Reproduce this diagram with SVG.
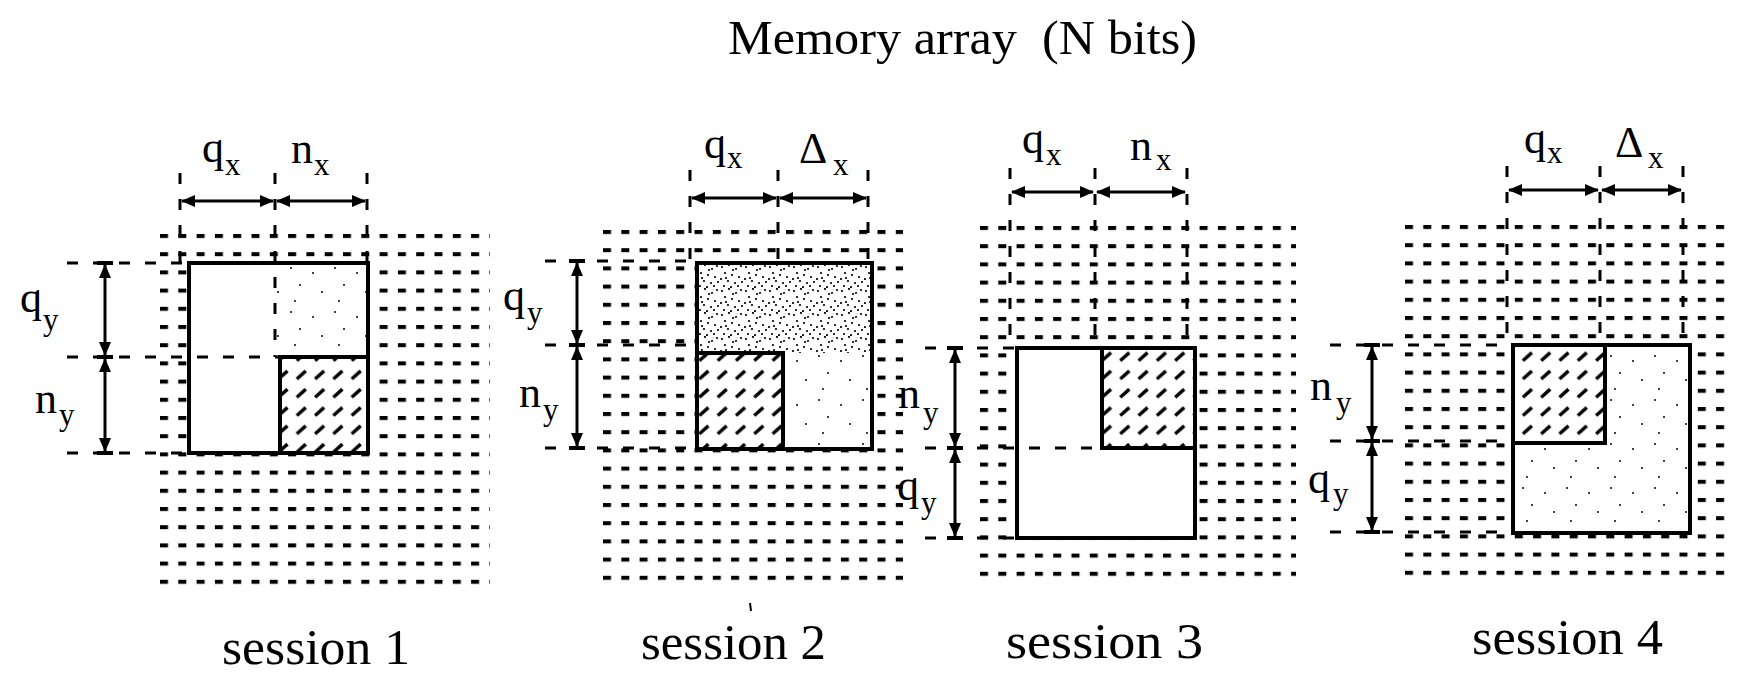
<svg xmlns="http://www.w3.org/2000/svg" width="1738" height="680" viewBox="0 0 1738 680">
<style>
.txt{font-family:"Liberation Serif","Times New Roman",serif;fill:#000}
.ttl{font-size:48px}
.lab{font-size:44px}
.sub{font-size:31px}
.sess{font-size:50px}
.box{fill:#fff;stroke:#000;stroke-width:4}
.outline{fill:none;stroke:#000;stroke-width:4}
.solid{stroke:#000;stroke-width:4;fill:none}
.ext{stroke:#000;stroke-width:3;stroke-dasharray:11 15;fill:none}
.bar{stroke:#000;stroke-width:4;fill:none}
.dim{stroke:#000;stroke-width:3;fill:none;marker-start:url(#ah);marker-end:url(#ah)}
</style>
<defs>
<marker id="ah" markerUnits="userSpaceOnUse" markerWidth="14" markerHeight="12" refX="13" refY="6" orient="auto-start-reverse" viewBox="0 0 14 12"><path d="M0,0 L14,6 L0,12 z" fill="#000"/></marker>
<pattern id="grid1" patternUnits="userSpaceOnUse" x="160" y="234" width="18.3" height="18.2"><rect width="8" height="4" fill="#000"/></pattern>
<pattern id="grid2" patternUnits="userSpaceOnUse" x="603" y="230" width="18.3" height="18.2"><rect width="8" height="4" fill="#000"/></pattern>
<pattern id="grid3" patternUnits="userSpaceOnUse" x="980" y="226" width="18.3" height="18.2"><rect width="8" height="4" fill="#000"/></pattern>
<pattern id="grid4" patternUnits="userSpaceOnUse" x="1405" y="225" width="18.3" height="18.2"><rect width="8" height="4" fill="#000"/></pattern>
<pattern id="hatch" patternUnits="userSpaceOnUse" width="18.3" height="18.3"><line x1="4" y1="13" x2="13" y2="5" stroke="#000" stroke-width="3.5"/></pattern>
<pattern id="stipS" patternUnits="userSpaceOnUse" width="44" height="44"><g fill="#000"><circle cx="5" cy="9" r="1"/><circle cx="27" cy="4" r="1"/><circle cx="36" cy="21" r="1"/><circle cx="14" cy="28" r="1"/><circle cx="31" cy="37" r="1"/></g></pattern>
<pattern id="stipD" patternUnits="userSpaceOnUse" width="24" height="24"><g fill="#000"><circle cx="2" cy="3" r="1.1"/><circle cx="9" cy="1" r="1.1"/><circle cx="16" cy="5" r="1.1"/><circle cx="21" cy="2" r="1.1"/><circle cx="5" cy="9" r="1.1"/><circle cx="12" cy="11" r="1.1"/><circle cx="19" cy="13" r="1.1"/><circle cx="1" cy="15" r="1.1"/><circle cx="8" cy="17" r="1.1"/><circle cx="15" cy="19" r="1.1"/><circle cx="22" cy="18" r="1.1"/><circle cx="4" cy="22" r="1.1"/><circle cx="11" cy="23" r="1.1"/><circle cx="18" cy="22" r="1.1"/><circle cx="13" cy="6" r="1.1"/><circle cx="6" cy="14" r="1.1"/></g></pattern>
</defs>
<rect width="1738" height="680" fill="#fff"/>

<g id="title"><text class="txt ttl" x="728" y="54" textLength="469" lengthAdjust="spacingAndGlyphs" xml:space="preserve">Memory array  (N bits)</text></g>

<g id="session1">
<rect x="158" y="232" width="332" height="356" fill="url(#grid1)"/>
<rect class="box" x="189" y="263" width="179" height="190"/>
<rect x="277" y="265" width="89" height="92" fill="url(#stipS)"/>
<rect x="280" y="357" width="88" height="96" fill="url(#hatch)"/>
<path class="solid" d="M280,453 V357 H368"/>
<rect class="outline" x="189" y="263" width="179" height="190"/>
<text class="txt lab" x="202" y="162">q</text><text class="txt sub" x="225" y="175">x</text>
<text class="txt lab" x="291" y="163">n</text><text class="txt sub" x="314" y="175">x</text>
<text class="txt lab" x="20" y="312">q</text><text class="txt sub" x="43" y="330">y</text>
<text class="txt lab" x="35" y="413">n</text><text class="txt sub" x="59" y="425">y</text>
<text class="txt sess" x="222" y="664" textLength="188" lengthAdjust="spacingAndGlyphs">session 1</text>
</g>

<g id="session2">
<rect x="600" y="228" width="303" height="356" fill="url(#grid2)"/>
<rect class="box" x="697" y="263" width="175" height="186"/>
<rect x="699" y="265" width="171" height="88" fill="url(#stipD)"/>
<rect x="785" y="353" width="85" height="94" fill="url(#stipS)"/>
<rect x="697" y="353" width="86" height="96" fill="url(#hatch)"/>
<path class="solid" d="M697,353 H783 V449"/>
<rect class="outline" x="697" y="263" width="175" height="186"/>
<text class="txt lab" x="704" y="158">q</text><text class="txt sub" x="727" y="168">x</text>
<text class="txt lab" x="799" y="163">Δ</text><text class="txt sub" x="833" y="175">x</text>
<text class="txt lab" x="503" y="310">q</text><text class="txt sub" x="527" y="323">y</text>
<text class="txt lab" x="519" y="407">n</text><text class="txt sub" x="543" y="420">y</text>
<text class="txt sess" x="641" y="659" textLength="185" lengthAdjust="spacingAndGlyphs">session 2</text>
<line x1="750" y1="603" x2="751" y2="611" stroke="#000" stroke-width="2"/>
</g>

<g id="session3">
<rect x="978" y="224" width="318" height="356" fill="url(#grid3)"/>
<rect class="box" x="1017" y="348" width="178" height="190"/>
<rect x="1102" y="348" width="93" height="100" fill="url(#hatch)"/>
<path class="solid" d="M1102,348 V448 H1195"/>
<rect class="outline" x="1017" y="348" width="178" height="190"/>
<text class="txt lab" x="1022" y="153">q</text><text class="txt sub" x="1046" y="165">x</text>
<text class="txt lab" x="1130" y="160">n</text><text class="txt sub" x="1156" y="170">x</text>
<text class="txt lab" x="898" y="408">n</text><text class="txt sub" x="923" y="423">y</text>
<text class="txt lab" x="897" y="500">q</text><text class="txt sub" x="921" y="513">y</text>
<text class="txt sess" x="1006" y="658" textLength="197" lengthAdjust="spacingAndGlyphs">session 3</text>
</g>

<g id="session4">
<rect x="1403" y="223" width="322" height="356" fill="url(#grid4)"/>
<rect class="box" x="1513" y="345" width="177" height="188"/>
<rect x="1607" y="347" width="81" height="96" fill="url(#stipS)"/>
<rect x="1515" y="443" width="173" height="88" fill="url(#stipS)"/>
<rect x="1513" y="345" width="92" height="98" fill="url(#hatch)"/>
<path class="solid" d="M1605,345 V443 H1513"/>
<rect class="outline" x="1513" y="345" width="177" height="188"/>
<text class="txt lab" x="1524" y="153">q</text><text class="txt sub" x="1547" y="163">x</text>
<text class="txt lab" x="1615" y="157">Δ</text><text class="txt sub" x="1648" y="168">x</text>
<text class="txt lab" x="1310" y="400">n</text><text class="txt sub" x="1336" y="413">y</text>
<text class="txt lab" x="1308" y="493">q</text><text class="txt sub" x="1333" y="504">y</text>
<text class="txt sess" x="1472" y="654" textLength="191" lengthAdjust="spacingAndGlyphs">session 4</text>
</g>

<g id="connectors">
<line class="ext" x1="180" y1="173" x2="180" y2="263"/>
<line class="ext" x1="275" y1="173" x2="275" y2="357"/>
<line class="ext" x1="367" y1="173" x2="367" y2="263"/>
<line class="ext" x1="67" y1="263" x2="189" y2="263"/>
<line class="ext" x1="67" y1="357" x2="280" y2="357"/>
<line class="ext" x1="67" y1="453" x2="189" y2="453"/>
<line class="dim" x1="182" y1="201" x2="273" y2="201"/>
<line class="dim" x1="277" y1="201" x2="365" y2="201"/>
<line class="dim" x1="105" y1="265" x2="105" y2="355"/>
<line class="dim" x1="105" y1="359" x2="105" y2="451"/>
<path class="bar" d="M97,263 H113 M97,357 H113 M97,453 H113"/>
<line class="ext" x1="690" y1="170" x2="690" y2="263"/>
<line class="ext" x1="778" y1="170" x2="778" y2="263"/>
<line class="ext" x1="868" y1="170" x2="868" y2="263"/>
<line class="ext" x1="545" y1="261" x2="697" y2="261"/>
<line class="ext" x1="545" y1="345" x2="697" y2="345"/>
<line class="ext" x1="545" y1="448" x2="697" y2="448"/>
<line class="dim" x1="692" y1="198" x2="776" y2="198"/>
<line class="dim" x1="780" y1="198" x2="866" y2="198"/>
<line class="dim" x1="577" y1="263" x2="577" y2="343"/>
<line class="dim" x1="577" y1="347" x2="577" y2="446"/>
<path class="bar" d="M569,261 H585 M569,345 H585 M569,448 H585"/>
<line class="ext" x1="1010" y1="168" x2="1010" y2="348"/>
<line class="ext" x1="1095" y1="168" x2="1095" y2="348"/>
<line class="ext" x1="1187" y1="168" x2="1187" y2="348"/>
<line class="ext" x1="925" y1="348" x2="1017" y2="348"/>
<line class="ext" x1="925" y1="448" x2="1102" y2="448"/>
<line class="ext" x1="925" y1="538" x2="1017" y2="538"/>
<line class="dim" x1="1012" y1="192" x2="1093" y2="192"/>
<line class="dim" x1="1097" y1="192" x2="1185" y2="192"/>
<line class="dim" x1="955" y1="350" x2="955" y2="446"/>
<line class="dim" x1="955" y1="450" x2="955" y2="536"/>
<path class="bar" d="M947,348 H963 M947,448 H963 M947,538 H963"/>
<line class="ext" x1="1507" y1="166" x2="1507" y2="345"/>
<line class="ext" x1="1600" y1="166" x2="1600" y2="345"/>
<line class="ext" x1="1683" y1="166" x2="1683" y2="345"/>
<line class="ext" x1="1330" y1="345" x2="1513" y2="345"/>
<line class="ext" x1="1330" y1="441" x2="1513" y2="441"/>
<line class="ext" x1="1330" y1="532" x2="1513" y2="532"/>
<line class="dim" x1="1509" y1="190" x2="1598" y2="190"/>
<line class="dim" x1="1602" y1="190" x2="1681" y2="190"/>
<line class="dim" x1="1372" y1="347" x2="1372" y2="439"/>
<line class="dim" x1="1372" y1="443" x2="1372" y2="530"/>
<path class="bar" d="M1364,345 H1380 M1364,441 H1380 M1364,532 H1380"/>
</g>
</svg>
